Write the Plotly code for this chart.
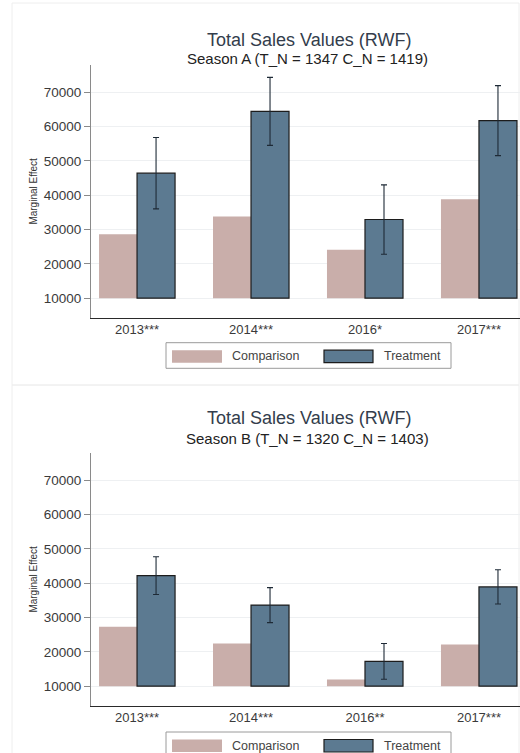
import plotly.graph_objects as go

# Season A / Season B marginal effects on total sales value (RWF)
tick_a = ["2013***", "2014***", "2016*", "2017***"]
tick_b = ["2013***", "2014***", "2016**", "2017***"]

comparison_a = [28600, 33800, 24100, 38800]
treatment_a = [46400, 64400, 32900, 61700]
ci_a = [10400, 9900, 10100, 10200]

comparison_b = [27300, 22400, 11900, 22100]
treatment_b = [42200, 33600, 17200, 38900]
ci_b = [5500, 5100, 5200, 5000]

BASE = 10000
COMP_COLOR = "#c9aeaa"
TREAT_COLOR = "#5c7a91"
FONT = "Liberation Sans, Arial, sans-serif"

W, H = 520, 753


def py(px):
    """pixel row -> paper y"""
    return 1 - px / H


def pxx(px):
    """pixel column -> paper x"""
    return px / W


fig = go.Figure()

panels = [
    dict(ticks=tick_a, comp=comparison_a, treat=treatment_a, ci=ci_a, xa="x", ya="y"),
    dict(ticks=tick_b, comp=comparison_b, treat=treatment_b, ci=ci_b, xa="x2", ya="y2"),
]

for p in panels:
    fig.add_trace(go.Bar(
        x=p["ticks"], y=[v - BASE for v in p["comp"]], base=BASE,
        name="Comparison", marker=dict(color=COMP_COLOR, line=dict(width=0)),
        xaxis=p["xa"], yaxis=p["ya"], showlegend=False, offsetgroup="c",
    ))
    fig.add_trace(go.Bar(
        x=p["ticks"], y=[v - BASE for v in p["treat"]], base=BASE,
        name="Treatment", marker=dict(color=TREAT_COLOR, line=dict(color="#1c1c1c", width=1.2)),
        error_y=dict(type="data", array=p["ci"], visible=True, color="#1e2a36",
                     thickness=1.1, width=3),
        xaxis=p["xa"], yaxis=p["ya"], showlegend=False, offsetgroup="t",
    ))

yticks = [10000, 20000, 30000, 40000, 50000, 60000, 70000]
yaxis_common = dict(
    range=[4300, 77900], tickvals=yticks, ticktext=[str(t) for t in yticks],
    showline=True, linecolor="#8a8a8a", linewidth=1,
    ticks="outside", ticklen=6, tickcolor="#8a8a8a", tickwidth=1,
    showgrid=True, gridcolor="#eef0f2", gridwidth=1, zeroline=False,
    tickfont=dict(family=FONT, size=13.5, color="#3a3a3a"),
    title=dict(text="Marginal Effect", font=dict(family=FONT, size=10, color="#333333"),
               standoff=4),
    fixedrange=True,
)
xaxis_common = dict(
    range=[-0.404, 3.36], showline=True, linecolor="#2a2a2a", linewidth=1.2,
    ticks="", showgrid=False, zeroline=False,
    tickfont=dict(family=FONT, size=13, color="#3a3a3a"),
    fixedrange=True,
)

fig.update_layout(
    width=W, height=H,
    margin=dict(l=0, r=0, t=0, b=0),
    paper_bgcolor="white", plot_bgcolor="white",
    barmode="group", bargap=0.333, bargroupgap=0,
    showlegend=False,
    xaxis=dict(domain=[pxx(91), 1], anchor="y", **xaxis_common),
    yaxis=dict(domain=[py(317.7), py(65)], anchor="x", **yaxis_common),
    xaxis2=dict(domain=[pxx(91), 1], anchor="y2", **xaxis_common),
    yaxis2=dict(domain=[py(705.7), py(453)], anchor="x2", **yaxis_common),
)

shapes = []
annotations = []

# faint outer frames of each graph region
for top, bottom in [(3, 385), (385, 770)]:
    shapes.append(dict(type="rect", xref="paper", yref="paper",
                       x0=pxx(12), x1=pxx(519), y0=py(bottom), y1=py(top),
                       line=dict(color="#eeeeee", width=1), layer="below"))

titles = [
    (28, 48, "Season A (T_N = 1347 C_N = 1419)"),
    (418, 438, "Season B (T_N = 1320 C_N = 1403)"),
]
for ty, sy, sub in titles:
    annotations.append(dict(text="Total Sales Values (RWF)", xref="paper", yref="paper",
                            x=pxx(309), y=py(ty), showarrow=False,
                            font=dict(family=FONT, size=18, color="#333d4c")))
    annotations.append(dict(text=sub, xref="paper", yref="paper",
                            x=pxx(307), y=py(sy), showarrow=False,
                            font=dict(family=FONT, size=15, color="#222222")))

# legends drawn below each panel
for box_top in [342.7, 732]:
    box_bottom = box_top + 25.6
    sw_top, sw_bot = box_top + 7.5, box_top + 20
    shapes.append(dict(type="rect", xref="paper", yref="paper",
                       x0=pxx(166), x1=pxx(451), y0=py(box_bottom), y1=py(box_top),
                       line=dict(color="#9a9a9a", width=1), fillcolor="white"))
    shapes.append(dict(type="rect", xref="paper", yref="paper",
                       x0=pxx(172), x1=pxx(222), y0=py(sw_bot), y1=py(sw_top),
                       line=dict(width=0), fillcolor=COMP_COLOR))
    shapes.append(dict(type="rect", xref="paper", yref="paper",
                       x0=pxx(324), x1=pxx(373), y0=py(sw_bot), y1=py(sw_top),
                       line=dict(color="#1c1c1c", width=1.2), fillcolor=TREAT_COLOR))
    mid = (sw_top + sw_bot) / 2
    for lx, label in [(230, "Comparison"), (382, "Treatment")]:
        annotations.append(dict(text=label, xref="paper", yref="paper",
                                x=pxx(lx), y=py(mid), xanchor="left", yanchor="middle",
                                showarrow=False,
                                font=dict(family=FONT, size=12.5, color="#444444")))

fig.update_layout(shapes=shapes, annotations=annotations)

fig.write_html("out.html")
